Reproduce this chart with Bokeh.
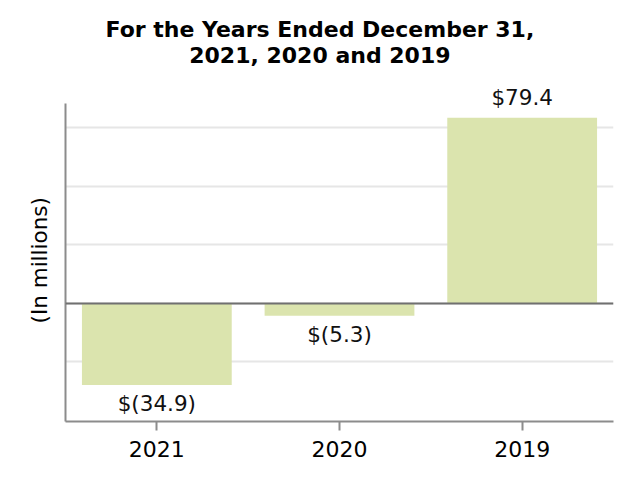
from bokeh.plotting import figure
from bokeh.models import Title, Span, FixedTicker, Range1d, FactorRange, ColumnDataSource, Label
from bokeh.embed import file_html
from bokeh.resources import INLINE

years = ["2021", "2020", "2019"]
values = [-34.9, -5.3, 79.4]
value_labels = ["$(34.9)", "$(5.3)", "$79.4"]
grid_ticks = [-25, 0, 25, 50, 75]
axis_bounds = (-50.5, 85.5)
title_line1 = "For the Years Ended December 31,"
title_line2 = "2021, 2020 and 2019"
y_label = "(In millions)"

FONT = "DejaVu Sans"
BAR = "#dbe4ae"

# frame is taller than the drawn axis so that the top value label is not clipped
p = figure(
    x_range=FactorRange(factors=years, range_padding=0),
    y_range=Range1d(-50.5, 95.3),
    width=634, height=480,
    output_backend="svg", toolbar_location=None,
    min_border_left=65, min_border_right=21,
    min_border_top=80, min_border_bottom=59,
)
p.outline_line_color = None
p.background_fill_color = "white"

p.add_layout(Title(text=title_line1 + "\n" + title_line2, align="left", offset=40,
                   text_align="center", vertical_align="top", text_font=FONT, standoff=22,
                   text_line_height=1.05, text_font_size="22px", text_font_style="bold",
                   text_color="black"), "above")

src = ColumnDataSource(dict(x=years, top=values, label=value_labels))
p.vbar(x="x", top="top", bottom=0, width=0.82, source=src, fill_color=BAR, line_color=None)

# categorical factor i sits at synthetic coordinate i + 0.5
for i, (yr, v, lab) in enumerate(zip(years, values, value_labels)):
    neg = v < 0
    p.add_layout(Label(x=i + 0.5, y=v, text=lab, text_align="center",
                       text_baseline="top" if neg else "bottom",
                       y_offset=-6 if neg else 8, text_font=FONT,
                       text_font_size="21.5px", text_color="#111111"))

p.add_layout(Span(location=0, dimension="width", line_color="#707070", line_width=2))

p.xgrid.grid_line_color = None
p.ygrid.grid_line_color = "#e6e6e6"
p.ygrid.grid_line_width = 2
p.ygrid.ticker = FixedTicker(ticks=grid_ticks)
p.yaxis.ticker = FixedTicker(ticks=[])
p.yaxis.bounds = axis_bounds

p.yaxis.axis_line_color = "#8c8c8c"
p.yaxis.axis_line_width = 2
p.yaxis.major_tick_line_color = None
p.yaxis.minor_tick_line_color = None

# y-axis caption as a left-side title, so it can be centred on the drawn axis
p.add_layout(Title(text=y_label, align="left", offset=98, standoff=28,
                   text_font=FONT, text_font_size="21.5px", text_font_style="normal",
                   text_color="black"), "left")

p.xaxis.axis_line_color = "#8c8c8c"
p.xaxis.axis_line_width = 2
p.xaxis.major_tick_line_color = "#8c8c8c"
p.xaxis.major_tick_line_width = 2
p.xaxis.major_tick_out = 9
p.xaxis.major_tick_in = 0
p.xaxis.minor_tick_line_color = None
p.xaxis.major_label_text_font = FONT
p.xaxis.major_label_text_font_size = "22px"
p.xaxis.major_label_text_color = "black"
p.xaxis.major_label_standoff = 10

open("out.html", "w").write(file_html(p, INLINE))
